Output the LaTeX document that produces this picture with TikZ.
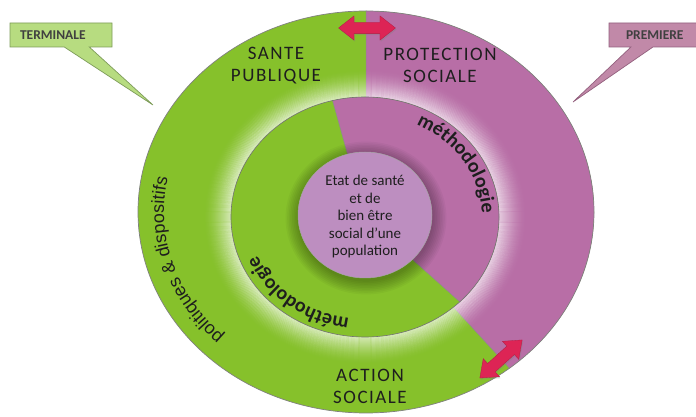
\documentclass[tikz,border=0pt]{standalone}
\usepackage{fontspec}
\setmainfont{Carlito}
\newfontfamily\lblfont[LetterSpace=8]{Carlito}
\newfontfamily\polfont{Liberation Sans}
\usetikzlibrary{calc,shapes.arrows,shapes.callouts,shadows,decorations.text}
\definecolor{gr}{HTML}{86C12B}
\definecolor{pk}{HTML}{B86EA6}
\definecolor{lav}{HTML}{BD8EC0}
\definecolor{arr}{HTML}{DD2455}
\definecolor{tgr}{HTML}{B7DC80}
\definecolor{tgrb}{HTML}{7E9C5A}
\definecolor{ppk}{HTML}{C189A8}
\definecolor{ppkb}{HTML}{93607E}
\definecolor{ink}{HTML}{1E1E1E}
\begin{document}
\begin{tikzpicture}[x=1pt,y=1pt,
  ring/.style={draw=black!55, line width=0.6pt},
  lbl/.style={font=\lblfont\fontsize{19}{22}\selectfont, text=ink, align=center, inner sep=0pt},
  ctext/.style={font=\fontsize{15}{17.5}\selectfont, text=ink, align=center, inner sep=0pt},
  dbl/.style={double arrow, fill=arr, draw=arr!80!black, line width=0.3pt,
    minimum height=57pt, minimum width=24pt, inner sep=5.5pt,
    double arrow head extend=6.5pt, double arrow tip angle=76,
    drop shadow={opacity=0.35, shadow xshift=1pt, shadow yshift=-1.5pt}},
  tag/.style={rectangle callout, line width=0.7pt, minimum height=24pt, inner ysep=0pt,
    align=left, font=\bfseries\fontsize{13.5}{15}\selectfont, text=ink!85},
  meth/.style={decorate, decoration={text along path, text align=center,
    text color=ink, text={|\bfseries\fontsize{20}{22}\selectfont|méthodologie}}}
]
\useasboundingbox (0,0) rectangle (696,417);
\fill[white] (0,0) rectangle (696,417);

\coordinate (C) at (366,205);
\coordinate (M) at (365,200);
\coordinate (Z) at (365,202);
\coordinate (otop) at ($(C)+(90:228pt and 201pt)$);
\coordinate (obr) at ($(C)+(-51:228pt and 201pt)$);
\coordinate (mtop) at ($(M)+(104:134pt and 120pt)$);
\coordinate (mbr) at ($(M)+(-45:134pt and 120pt)$);

% outer ring
\fill[gr] (C) ellipse[x radius=228pt, y radius=201pt];
\fill[pk] (C) -- (obr) arc[start angle=-51, end angle=90, x radius=228pt, y radius=201pt] -- cycle;
\draw[black!45, line width=0.5pt] (otop) -- (C) -- (obr);
\foreach \k in {0,...,28}{
  \pgfmathsetmacro\op{0.62*(1-\k/28)^1.7}
  \pgfmathsetmacro\rx{134+\k}
  \pgfmathsetmacro\ry{120+\k}
  \draw[white, draw opacity=\op, line width=1.2pt] (M) ellipse[x radius=\rx pt, y radius=\ry pt];
}
\draw[black!50, line width=0.7pt] (C) ellipse[x radius=228pt, y radius=201pt];

% middle ring
\fill[gr] (M) ellipse[x radius=134pt, y radius=120pt];
\fill[pk] (M) -- (mbr) arc[start angle=-45, end angle=104, x radius=134pt, y radius=120pt] -- cycle;
\draw[black!45, line width=0.5pt] (mtop) -- (M) -- (mbr);
\draw[ring] (M) ellipse[x radius=134pt, y radius=120pt];

% central circle with soft shadow
\foreach \k in {1,...,9}{
  \pgfmathsetmacro\rx{66+1.6*\k}
  \pgfmathsetmacro\ry{62+1.6*\k}
  \fill[black, fill opacity=0.035] ($(Z)+(1,-3)$) ellipse[x radius=\rx pt, y radius=\ry pt];
}
\fill[lav] (Z) ellipse[x radius=67pt, y radius=63pt];
\draw[black!35, line width=0.5pt] (Z) ellipse[x radius=67pt, y radius=63pt];
\node[ctext] (etat) at (365,200) {Etat de santé\\et de\\bien être\\social d’une\\population};

% ring labels
\node[lbl] (sante) at (276,351) {SANTE\\PUBLIQUE};
\node[lbl] (prot) at (440,352) {PROTECTION\\SOCIALE};
\node[lbl] (action) at (370,31) {ACTION\\SOCIALE};

% curved texts
\path[decorate, decoration={text along path, text align=center, text color=ink,
  text={|\polfont\fontsize{18}{20}\selectfont|politiques {\&} dispositifs}}]
  ($(C)+(252:202pt and 175pt)$) arc[start angle=252, end angle=140, x radius=202pt, y radius=175pt];
\path[meth] ($(M)+(82:117pt and 103pt)$) arc[start angle=82, end angle=-18, x radius=117pt, y radius=103pt];
\path[meth] ($(M)+(-80:116pt and 102pt)$) arc[start angle=-80, end angle=-178, x radius=116pt, y radius=102pt];

% double arrows
\node[dbl] (a1) at (367,389) {};
\node[dbl, rotate=42] (a2) at (501,58) {};

% callouts
\coordinate (tip1) at (153,312);
\coordinate (tip2) at (573,315);
\node[tag, fill=tgr, draw=tgrb, inner xsep=10pt, text width=82pt,
  callout absolute pointer={(tip1)}, callout pointer width=25pt] (term) at (61,382) {TERMINALE};
\node[tag, fill=ppk, draw=ppkb, inner xsep=17pt, text width=62pt,
  callout absolute pointer={(tip2)}, callout pointer width=22pt] (prem) at (657,382) {PREMIERE};
\end{tikzpicture}
\end{document}
